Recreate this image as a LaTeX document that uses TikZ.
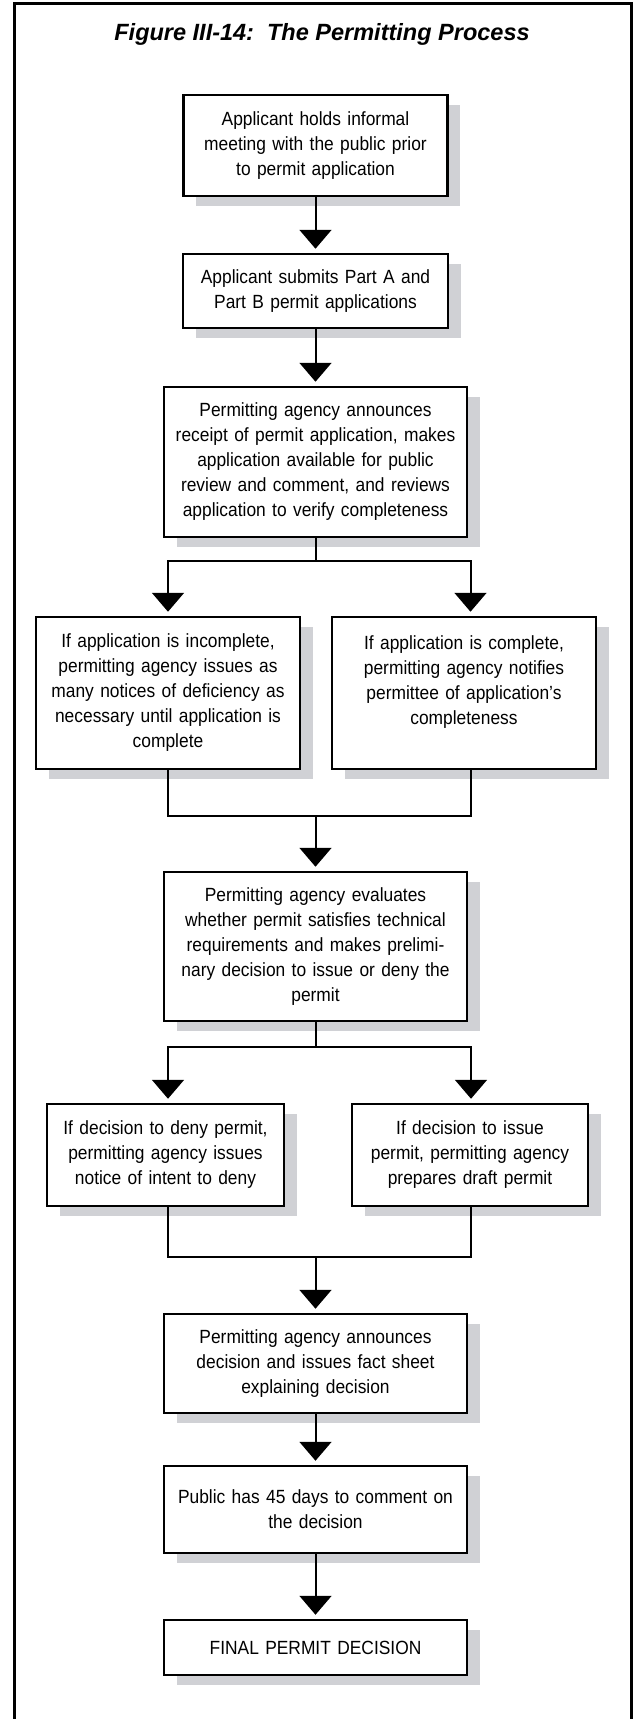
\documentclass[tikz,border=0pt]{standalone}
\usepackage{fontspec}
\setmainfont[FakeStretch=0.91]{Liberation Sans}
\newfontfamily\titlefamily{Liberation Sans}
\usetikzlibrary{arrows.meta,calc,shadows}
\definecolor{shadowgray}{RGB}{208,209,213}
\begin{document}
\begin{tikzpicture}[x=1pt,y=-1pt,
  box/.style={draw, line width=2.5pt, fill=white, inner sep=0pt, align=center,
    font=\fontsize{19.1}{25}\selectfont,
    drop shadow={shadow xshift=12.5pt, shadow yshift=-10pt, fill=shadowgray, opacity=1}},
  conn/.style={line width=2pt},
  arr/.style={conn, -{Triangle[width=32pt,length=19pt]}, shorten >=4pt},
  frameline/.style={line width=3pt},
  titlefont/.style={font=\titlefamily\fontsize{23.5}{28}\selectfont\bfseries\itshape}
]
\fill[white] (0,0) rectangle (636,1719);
\useasboundingbox (0,0) rectangle (636,1719);
\draw[frameline] (14,1730) -- (14,3) -- (631,3) -- (631,1730);

\node[titlefont, anchor=base] (title) at (322,40) {Figure III-14:\ \ The Permitting Process};

\node[box, minimum width=264pt, minimum height=101pt, text width=256pt] (b1) at (315.5,145.5)
  {Applicant holds informal\\meeting with the public prior\\to permit application};
\node[box, minimum width=265pt, minimum height=74pt, text width=256pt] (b2) at (315.5,291)
  {Applicant submits Part A and\\Part B permit applications};
\node[box, minimum width=303pt, minimum height=150pt, text width=295pt] (b3) at (315.5,462)
  {Permitting agency announces\\receipt of permit application, makes\\application available for public\\review and comment, and reviews\\application to verify completeness};
\node[box, minimum width=264pt, minimum height=152pt, text width=256pt] (b4) at (168,693)
  {If application is incomplete,\\permitting agency issues as\\many notices of deficiency as\\necessary until application is\\complete};
\node[box, minimum width=264pt, minimum height=152pt, text width=256pt] (b5) at (464,693)
  {If application is complete,\\permitting agency notifies\\permittee of application’s\\completeness\\\mbox{}};
\node[box, minimum width=303pt, minimum height=149pt, text width=295pt] (b6) at (315.5,946.5)
  {Permitting agency evaluates\\whether permit satisfies technical\\requirements and makes prelimi-\\nary decision to issue or deny the\\permit};
\node[box, minimum width=237pt, minimum height=102pt, text width=229pt] (b7) at (165.5,1155)
  {If decision to deny permit,\\permitting agency issues\\notice of intent to deny};
\node[box, minimum width=236pt, minimum height=102pt, text width=228pt] (b8) at (470,1155)
  {If decision to issue\\permit, permitting agency\\prepares draft permit};
\node[box, minimum width=303pt, minimum height=99pt, text width=295pt] (b9) at (315.5,1363.5)
  {Permitting agency announces\\decision and issues fact sheet\\explaining decision};
\node[box, minimum width=303pt, minimum height=87pt, text width=295pt] (b10) at (315.5,1509.5)
  {Public has 45 days to comment on\\the decision};
\node[box, minimum width=303pt, minimum height=55pt, text width=295pt] (b11) at (315.5,1647.5)
  {FINAL PERMIT DECISION};

\draw[arr] (b1.south) -- (b2.north);
\draw[arr] (b2.south) -- (b3.north);

\coordinate (s1) at (315.5,561);
\draw[conn] (b3.south) -- (s1);
\draw[arr] (s1) -| (b4.north);
\draw[arr] (s1) -| ($(b5.north)+(6.5,0)$);

\coordinate (m1) at (315.5,816);
\draw[conn] (b4.south) |- (m1) -| ($(b5.south)+(6.5,0)$);
\draw[arr] (m1) -- (b6.north);

\coordinate (s2) at (315.5,1047);
\draw[conn] (b6.south) -- (s2);
\draw[arr] (s2) -| ($(b7.north)+(2.5,0)$);
\draw[arr] (s2) -| ($(b8.north)+(1,0)$);

\coordinate (m2) at (315.5,1257);
\draw[conn] ($(b7.south)+(2.5,0)$) |- (m2) -| ($(b8.south)+(1,0)$);
\draw[arr] (m2) -- (b9.north);
\draw[arr] (b9.south) -- (b10.north);
\draw[arr] (b10.south) -- (b11.north);
\end{tikzpicture}
\end{document}
